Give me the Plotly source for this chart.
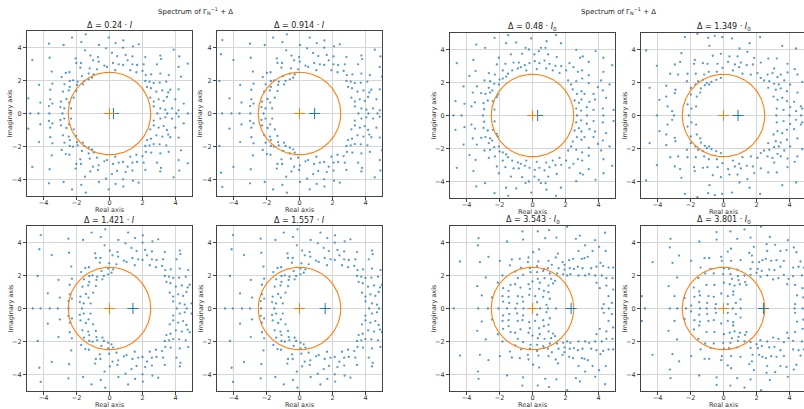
import numpy as np
import plotly.graph_objects as go

# ---------------- data ----------------
LEFT_DELTAS = [0.24, 0.914, 1.421, 1.557]
RIGHT_DELTAS = [0.48, 1.349, 3.543, 3.801]
RIGHT_CROSS = [0.31, 0.88, 2.34, 2.42]   # position of the blue marker on the real axis
RADIUS = 2.5

# upper-half eigenvalues with Delta = 0.24 I (mirrored by conjugation)
L_UPPER = [(-1.44,4.80),(-2.27,4.60),(-0.05,4.60),(0.84,4.43),(-3.67,4.23),(-2.78,4.15),(-1.71,4.33),(-0.64,4.15),
 (0.37,4.27),(1.42,4.07),(1.77,4.19),(-0.21,3.95),(0.82,3.99),(3.89,3.87),(-1.48,3.83),(-4.68,3.24),(-3.63,3.38),
 (-2.05,3.34),(-1.16,3.51),(-0.70,3.42),(0.15,3.67),(0.46,3.48),(0.98,3.55),(1.39,3.46),(2.17,3.42),(3.08,3.51),
 (3.12,3.30),(4.23,3.46),(4.74,3.02),(-2.01,3.06),(-1.73,3.06),(-1.00,3.22),(-0.66,3.14),(-0.31,2.90),(0.21,3.06),
 (0.56,2.98),(0.82,2.94),(1.10,3.22),(1.39,2.98),(1.67,2.94),(2.07,2.98),(2.88,2.98),(4.19,2.82),(-3.50,2.54),
 (-2.90,2.21),(-2.65,2.46),(-2.43,2.50),(-1.77,2.78),(-1.67,2.27),(-1.20,2.74),(-1.26,2.42),(-0.96,2.37),(-0.76,2.68),
 (-0.15,2.82),(0.35,2.62),(1.26,2.62),(1.63,2.50),(2.00,2.58),(2.20,2.33),(2.53,2.37),(3.08,2.42),(3.59,2.33),
 (4.33,2.23),(-2.21,2.01),(-2.41,1.97),(-1.93,1.93),(-1.52,1.97),(-1.26,2.07),(-1.06,2.17),(-4.27,1.73),(-3.46,1.81),
 (-2.73,1.77),(-2.41,1.61),(-1.97,1.73),(-1.61,1.77),(2.17,1.97),(2.43,1.93),(2.68,1.85),(3.04,1.87),(3.44,1.93),
 (4.19,1.46),(-3.59,1.44),(-2.82,1.32),(-2.47,1.40),(-2.01,1.36),(2.27,1.61),(2.51,1.53),(2.84,1.32),(3.20,1.40),
 (3.56,1.28),(3.68,1.44),(-4.92,0.92),(-4.19,0.66),(-3.59,0.86),(-3.46,0.60),(-2.94,0.72),(-2.61,0.88),(-2.45,0.66),
 (-2.17,0.96),(2.47,0.96),(2.68,0.72),(2.98,0.86),(3.28,0.76),(3.48,1.00),(3.99,0.86),(4.50,0.60),(-3.67,0.45),
 (-2.98,0.39),(-2.74,0.31),(-2.33,0.31),(2.68,0.43),(3.08,0.31),(3.38,0.23),(3.79,0.31),(4.19,0.19),
 (-5.35,4.45),(-5.43,3.59),(-5.53,1.97)]
L_REAL = [-5.83,-5.36,-4.8,-4.31,-3.65,-2.85,2.9,3.5,4.05,4.75]

R1_UPPER = [(-1.47,4.87),(-2.30,4.71),(-0.08,4.67),(0.85,4.50),(1.43,4.87),(-3.41,4.30),(-2.87,4.10),(-1.60,4.38),
 (-0.99,4.42),(-0.42,4.10),(-0.22,4.00),(0.51,4.10),(0.79,4.10),(1.72,4.38),(2.65,3.98),(3.82,3.90),(-1.31,3.70),
 (-0.63,3.74),(0.12,3.70),(0.38,3.90),(0.95,3.70),(1.47,3.54),(-4.59,3.17),(-3.58,3.37),(-2.04,3.50),(-1.15,3.21),
 (-0.83,3.21),(-0.71,2.93),(-0.46,3.05),(-0.18,3.17),(0.14,3.29),(0.42,3.17),(0.73,3.33),(1.03,3.13),(1.39,3.01),
 (1.74,2.99),(2.24,3.17),(2.89,3.50),(3.05,3.58),(3.41,3.25),(4.30,3.50),(4.83,3.05),(-2.16,3.09),(-1.64,3.13),
 (-3.82,2.40),(-3.45,2.69),(-2.65,2.57),(-2.28,2.48),(-1.80,2.73),(-1.49,2.53),(-1.23,2.73),(-0.89,2.85),(-0.38,2.73),
 (0.26,2.81),(0.83,2.85),(1.23,2.73),(1.64,2.57),(2.04,2.73),(2.48,2.93),(2.75,2.65),(3.01,2.73),(3.41,2.44),
 (4.30,2.65),(-2.91,2.12),(-2.57,2.08),(-2.32,1.92),(-2.00,2.18),(-1.80,2.24),(-1.60,2.36),(-4.18,1.76),(-3.37,1.76),
 (-2.65,1.68),(-2.44,1.52),(-2.04,1.88),(2.16,2.12),(2.34,1.88),(2.65,2.08),(3.01,2.24),(3.41,1.96),(4.16,2.12),
 (4.67,1.88),(-3.62,1.39),(-3.11,1.35),(-2.85,1.31),(-2.57,1.39),(-2.10,1.27),(2.44,1.58),(2.69,1.31),(2.97,1.47),
 (3.15,1.31),(3.70,1.31),(3.96,1.72),(4.26,1.52),(-4.67,0.87),(-4.12,0.71),(-3.49,0.79),(-2.97,0.75),(-2.71,0.91),
 (-2.40,0.87),(-2.16,1.11),(2.55,0.91),(2.81,0.77),(2.97,0.97),(3.45,0.83),(3.78,0.97),(4.46,1.07),(-3.70,0.55),
 (-2.93,0.38),(-2.30,0.36),(2.65,0.42),(2.95,0.30),(3.29,0.50),(3.70,0.34),(4.26,0.42),(4.91,0.34)]
R1_REAL = [-4.79,-4.3,-3.0,2.7,3.3,4.3]

R2_UPPER = [(-1.58,4.95),(-2.34,4.75),(-0.93,4.71),(-0.53,4.83),(-0.08,4.75),(0.51,4.67),(2.22,4.75),(-0.85,4.22),
 (0.97,4.06),(1.58,4.38),(3.56,4.22),(4.40,4.06),(-4.69,3.94),(-2.55,3.78),(-0.65,3.62),(-0.16,3.74),(0.36,3.58),
 (0.85,3.58),(1.45,3.86),(1.86,3.49),(2.71,3.45),(3.23,3.45),(-1.74,3.37),(-1.25,3.17),(-1.78,3.13),(-0.97,3.13),
 (-0.36,3.13),(0.28,3.25),(0.69,3.09),(1.05,3.21),(1.41,3.05),(1.78,3.09),(2.26,3.21),(-2.95,3.09),(-2.63,3.25),
 (-4.04,3.01),(3.07,2.85),(3.88,3.13),(4.32,2.81),(-3.23,2.53),(-2.75,2.48),(-2.18,2.53),(-1.68,2.53),(-1.17,2.48),
 (-0.89,2.65),(-0.40,2.65),(-0.06,2.89),(0.57,2.73),(0.95,2.93),(1.15,2.53),(1.66,2.48),(2.06,2.57),(2.26,2.28),
 (2.67,2.48),(2.97,2.57),(3.27,2.32),(3.47,2.48),(3.88,2.61),(4.48,2.48),(-2.22,2.08),(-1.54,2.08),(-1.25,2.16),
 (-1.01,1.98),(-0.73,2.04),(-0.44,2.16),(-0.16,2.28),(2.46,2.12),(2.77,2.08),(3.07,1.92),(3.35,1.88),(3.68,2.12),
 (4.04,1.88),(4.77,2.04),(-4.48,1.68),(-3.47,1.80),(-2.91,1.56),(-1.98,1.68),(-1.70,1.88),(-1.37,1.64),(-1.13,1.84),
 (-0.87,1.88),(2.71,1.68),(3.17,1.56),(3.47,1.64),(3.84,1.47),(4.48,1.39),(-3.88,0.95),(-3.47,1.15),(-2.95,1.35),
 (-1.98,1.27),(-1.62,1.15),(-1.41,1.39),(3.03,1.15),(3.27,0.95),(3.56,1.07),(3.84,0.87),(4.28,0.83),(4.69,0.55),
 (-3.39,0.55),(-3.11,0.26),(-2.18,0.67),(-1.94,0.42),(-1.66,0.55),(3.23,0.42),(3.64,0.34),(4.04,0.51),(4.40,0.26),
 (4.77,0.42)]
R2_REAL = [-4.04,-3.0,-2.1,3.2,4.0,4.7]

R3_UPPER = [(2.10,4.95),(1.01,4.75),(0.32,4.67),(-0.61,4.67),(4.40,4.59),(-3.27,4.26),(-1.54,4.06),(-0.57,4.18),
 (0.77,4.26),(1.45,4.30),(2.63,4.22),(2.87,4.42),(3.80,4.14),(-3.31,3.82),(3.19,3.82),(4.04,3.74),(0.40,3.58),
 (0.04,3.41),(1.54,3.33),(1.41,3.09),(2.79,3.49),(3.64,3.49),(4.44,3.49),(-2.67,3.13),(-4.40,2.85),(-3.19,2.81),
 (-1.98,2.89),(-1.25,2.97),(-0.77,3.01),(-0.24,3.09),(-0.28,2.81),(0.36,2.85),(0.97,2.89),(1.17,2.65),(1.82,2.81),
 (1.94,2.65),(2.22,2.93),(2.46,3.01),(2.99,3.01),(3.15,3.05),(3.35,3.13),(4.12,2.77),(-1.37,2.61),(-0.69,2.48),
 (-0.16,2.44),(0.28,2.57),(0.69,2.40),(0.93,2.44),(1.58,2.44),(1.94,2.36),(2.26,2.44),(2.51,2.40),(2.75,2.53),
 (3.03,2.44),(3.56,2.44),(3.88,2.53),(4.28,2.57),(4.61,2.48),(4.89,2.48),(-2.83,1.88),(-1.05,2.24),(-0.57,2.04),
 (-0.12,2.20),(0.28,2.20),(0.65,2.28),(1.05,2.12),(1.49,2.12),(1.86,2.08),(2.10,2.00),(2.30,2.08),(2.79,2.00),
 (3.19,2.00),(3.43,2.08),(3.80,2.00),(4.20,2.00),(4.48,1.84),(4.85,1.84),(-1.82,2.00),(-0.89,1.84),(0.32,1.80),
 (0.73,1.84),(1.13,1.80),(1.37,1.68),(-1.33,1.43),(-1.05,1.47),(-0.24,1.47),(0.00,1.64),(0.44,1.56),(0.97,1.39),
 (1.25,1.52),(-3.35,1.35),(-2.10,1.56),(-1.78,1.23),(-1.45,1.07),(-0.73,1.27),(-0.16,1.19),(0.40,1.19),(0.69,1.07),
 (0.97,0.99),(3.88,1.56),(4.08,1.23),(4.48,1.39),(4.89,1.15),(-3.07,0.79),(-2.46,0.67),(-1.82,0.75),(-1.45,0.71),
 (-0.89,0.75),(-0.61,0.71),(-0.20,0.83),(0.16,0.75),(0.65,0.71),(1.05,0.59),(-1.78,0.42),(-1.41,0.34),(-0.93,0.30),
 (-0.57,0.42),(0.28,0.38),(0.85,0.22),(4.61,0.75),(4.81,0.34),(4.32,0.26)]
R3_REAL = [-4.77,-3.29,-2.7,-2.06,-1.55,-1.03,-0.55,0.46,0.93,1.43,4.22,4.63]

R4_UPPER = [(2.28,4.95),(1.27,4.79),(0.42,4.67),(-0.42,4.63),(-0.42,4.18),(0.83,4.22),(1.64,4.30),(2.81,4.34),
 (3.90,4.14),(-3.21,4.22),(-1.47,4.06),(2.61,3.90),(3.13,3.86),(1.84,3.74),(4.26,3.70),(-3.25,3.70),(0.46,3.62),
 (0.26,3.45),(1.56,3.37),(1.72,3.21),(2.65,3.49),(3.45,3.49),(3.82,3.54),(4.42,3.41),(-2.69,3.21),(-4.30,2.81),
 (-3.09,2.77),(-1.96,2.89),(-1.15,3.05),(-0.87,3.05),(-0.14,3.13),(-0.10,2.89),(0.46,2.89),(1.03,2.93),(1.76,2.81),
 (2.16,2.81),(2.36,2.93),(2.57,3.01),(2.89,2.89),(3.21,2.93),(3.66,2.89),(4.67,2.85),(-1.39,2.48),(-0.79,2.40),
 (0.02,2.44),(0.34,2.40),(0.83,2.36),(1.64,2.40),(2.08,2.40),(2.32,2.28),(2.77,2.36),(3.09,2.32),(3.45,2.53),
 (4.22,2.48),(4.55,2.53),(4.87,2.48),(-2.81,1.88),(-1.52,1.84),(-1.11,2.12),(-0.59,2.12),(-0.02,2.08),(0.42,2.08),
 (0.87,1.96),(1.27,2.00),(1.64,2.04),(2.00,2.16),(2.24,1.92),(2.65,2.00),(3.01,1.76),(3.33,1.84),(3.66,2.04),
 (3.94,1.80),(4.22,1.96),(4.75,2.00),(0.51,1.80),(0.91,1.72),(1.31,1.60),(-3.33,1.35),(-1.80,1.27),(-1.47,1.03),
 (-1.03,1.43),(-0.55,1.43),(0.02,1.56),(0.38,1.47),(0.67,1.39),(0.99,1.47),(1.39,1.43),(3.86,1.47),(4.34,1.43),
 (4.79,1.23),(-2.97,0.75),(-2.36,0.63),(-1.76,0.71),(-1.43,0.79),(-0.91,0.75),(-0.59,0.71),(-0.14,0.91),(0.26,0.75),
 (0.59,1.03),(0.59,0.83),(1.03,0.55),(-1.96,0.18),(-1.47,0.38),(-0.99,0.34),(-0.46,0.26),(0.26,0.26),(0.75,0.34),
 (4.34,0.26),(4.46,0.79),(4.83,0.67),(-4.95,0.75)]
R4_REAL = [-4.76,-3.25,-2.8,-2.27,-1.42,-1.02,-0.5,0.56,1.04,4.3,4.8]

TICKS = [-4, -2, 0, 2, 4]
SUPTITLE = "Spectrum of Γ<sub>N</sub><sup>−1</sup> + Δ"

# ---------------- helpers ----------------
W, H = 804, 409
BLUE, ORANGE = "#1f77b4", "#ff7f0e"
FONT = "DejaVu Sans"


def spectrum(upper, real, shift=0.0):
    re = [p[0] + shift for p in upper] + [p[0] + shift for p in upper] + [r + shift for r in real]
    im = [p[1] for p in upper] + [-p[1] for p in upper] + [0.0] * len(real)
    return re, im


left_spectra = [spectrum(L_UPPER, L_REAL, d - LEFT_DELTAS[0]) for d in LEFT_DELTAS]
right_spectra = [spectrum(u, r) for u, r in
                 [(R1_UPPER, R1_REAL), (R2_UPPER, R2_REAL), (R3_UPPER, R3_REAL), (R4_UPPER, R4_REAL)]]

# panel pixel boxes (left, top), size 165 px
SIZE = 165
boxes = [(27, 31), (217, 31), (27, 226), (217, 226),
         (450, 33), (641, 33), (450, 226), (641, 226)]
titles = [f"Δ = {d} · <i>I</i>" for d in LEFT_DELTAS] + \
         [f"Δ = {d} · <i>I</i><sub>0</sub>" for d in RIGHT_DELTAS]
spectra = left_spectra + right_spectra
crosses = LEFT_DELTAS + RIGHT_CROSS

theta = np.linspace(0, 2 * np.pi, 300)
circ_x = RADIUS * np.cos(theta)
circ_y = RADIUS * np.sin(theta)

fig = go.Figure()
annotations = []
layout_axes = {}
for i, ((lx, ty), title, (re, im), cx) in enumerate(zip(boxes, titles, spectra, crosses)):
    n = i + 1
    xa = "x" if n == 1 else f"x{n}"
    ya = "y" if n == 1 else f"y{n}"
    rx = lx + SIZE
    xr = [-5, 5]
    clipped = rx > W
    if clipped:
        xr = [-5, -5 + 10 * (W - lx) / SIZE]
        rx = W
    xdom = [lx / W, rx / W]
    ydom = [1 - (ty + SIZE) / H, 1 - ty / H]
    common = dict(showgrid=True, gridcolor="#d6d6d6", gridwidth=1, zeroline=False,
                  showline=True, linecolor="#444", linewidth=1,
                  ticks="outside", ticklen=3, tickcolor="#444",
                  tickvals=TICKS, tickfont=dict(size=6.5, color="#333", family=FONT))
    layout_axes["xaxis" if n == 1 else f"xaxis{n}"] = dict(
        common, domain=xdom, range=xr, anchor=ya, mirror=True, ticklabelstandoff=-3)
    layout_axes["yaxis" if n == 1 else f"yaxis{n}"] = dict(
        common, domain=ydom, range=[-5, 5], anchor=xa, mirror=not clipped)

    fig.add_trace(go.Scatter(x=re, y=im, mode="markers", xaxis=xa, yaxis=ya,
                             marker=dict(size=2.3, color=BLUE, opacity=0.75), showlegend=False))
    fig.add_trace(go.Scatter(x=circ_x, y=circ_y, mode="lines", xaxis=xa, yaxis=ya,
                             line=dict(color=ORANGE, width=1.1), showlegend=False))
    fig.add_trace(go.Scatter(x=[cx], y=[0], mode="markers", xaxis=xa, yaxis=ya,
                             marker=dict(symbol="cross-thin", size=8, line=dict(color=BLUE, width=1)),
                             showlegend=False))
    fig.add_trace(go.Scatter(x=[0], y=[0], mode="markers", xaxis=xa, yaxis=ya,
                             marker=dict(symbol="cross-thin", size=8, line=dict(color=ORANGE, width=1)),
                             showlegend=False))
    # panel title
    annotations.append(dict(text=title, x=(lx + SIZE / 2) / W, y=1 - (ty - 6) / H,
                            xref="paper", yref="paper", xanchor="center", yanchor="middle",
                            showarrow=False, font=dict(size=8, color="#222", family=FONT)))
    # axis titles
    real_y = min(ty + SIZE + 14, H - 4)
    annotations.append(dict(text="Real axis", x=(lx + SIZE / 2) / W, y=1 - real_y / H,
                            xref="paper", yref="paper", xanchor="center", yanchor="middle",
                            showarrow=False, font=dict(size=6.5, color="#333", family=FONT)))
    annotations.append(dict(text="Imaginary axis", x=(lx - 17) / W, y=1 - (ty + SIZE / 2) / H,
                            xref="paper", yref="paper", xanchor="center", yanchor="middle",
                            textangle=-90, showarrow=False,
                            font=dict(size=6.5, color="#333", family=FONT)))

for cxp in (195, 618):
    annotations.append(dict(text=SUPTITLE, x=cxp / W, y=1 - 11 / H, xref="paper", yref="paper",
                            xanchor="center", yanchor="middle", showarrow=False,
                            font=dict(size=7, color="#222", family=FONT)))

fig.update_layout(width=W, height=H, margin=dict(l=0, r=0, t=0, b=0),
                  paper_bgcolor="white", plot_bgcolor="white",
                  annotations=annotations, **layout_axes)
fig.write_html("out.html")
